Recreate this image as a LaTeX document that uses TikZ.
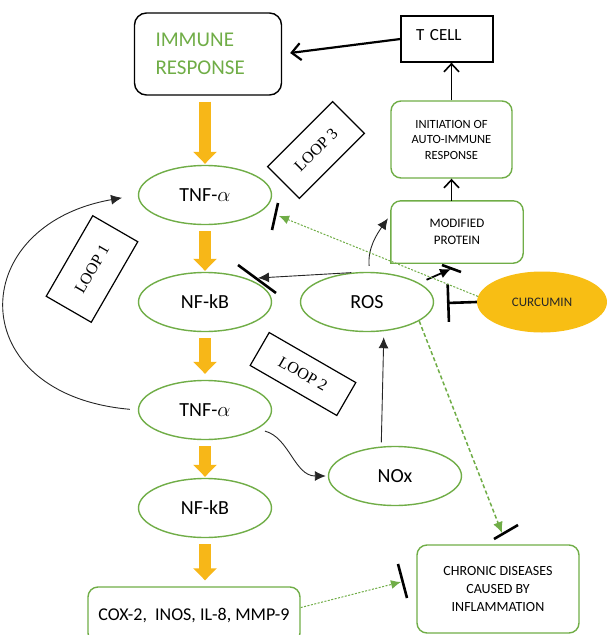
\documentclass[tikz,border=0pt]{standalone}
\usepackage{fontspec}
\setmainfont{Carlito}
\newfontfamily\loopfont{Liberation Serif}
\usetikzlibrary{shapes,arrows.meta}
\definecolor{leafgreen}{RGB}{112,173,71}
\definecolor{fatyellow}{RGB}{247,183,24}
\definecolor{curcuma}{RGB}{248,190,20}

\begin{document}
\begin{tikzpicture}[x=1pt,y=1pt,
    oval/.style={ellipse,draw=leafgreen,line width=1.4pt,minimum width=133pt,minimum height=59pt,inner sep=0pt,font=\fontsize{20}{24}\selectfont},
    gbox/.style={rectangle,rounded corners=10pt,draw=leafgreen,line width=1.4pt,align=center},
    loopbox/.style={rectangle,draw,line width=1.2pt,font=\loopfont\fontsize{16}{18}\selectfont},
    fatflow/.style={line width=12pt,draw=fatyellow,-{Triangle[width=23pt,length=12pt]},shorten <=6pt,shorten >=1pt},
    link/.style={black!85,line width=0.9pt,-{Latex[length=11pt,width=10pt]}},
    bigup/.style={line width=1.6pt,-{Straight Barb[length=8pt,width=15pt]}},
    hint/.style={leafgreen,line width=1pt,dash pattern=on 2pt off 1.5pt,-{Latex[length=10pt,width=9pt]}},
    hintdash/.style={leafgreen,line width=1.5pt,dash pattern=on 4pt off 2.5pt,-{Latex[length=11pt,width=10pt]}},
    block/.style={line width=2.6pt,black}]

    \useasboundingbox (0,0) rectangle (607,-635);
    \clip (0,0) rectangle (607,-635);

    \node[draw,rounded corners=12pt,line width=1.4pt,minimum width=147pt,minimum height=82pt,text width=105pt,align=left,text=leafgreen,font=\fontsize{21}{28}\selectfont] (immune) at (208,-54) {IMMUNE\\RESPONSE};
    \node[draw,line width=1.3pt,text width=62pt,align=left,inner xsep=15pt,inner ysep=6pt,text height=18pt,text depth=16pt,font=\fontsize{17}{20}\selectfont] (tcell) at (447,-39) {T CELL};
    \node[gbox,minimum width=121pt,minimum height=77pt,font=\fontsize{12.5}{15.5}\selectfont] (init) at (451.5,-139.5) {INITIATION OF\\AUTO-IMMUNE\\RESPONSE};
    \node[minimum width=132pt,minimum height=62pt,align=center,font=\fontsize{13}{17}\selectfont] (protein) at (457,-232) {MODIFIED\\PROTEIN};
    \draw[leafgreen,line width=1.4pt] (protein.south west) [rounded corners=10pt] -- (protein.north west) -- (protein.north east) -- (protein.south east) [sharp corners] -- cycle;

    \node[oval] (tnfa) at (205,-195) {TNF-$\alpha$};
    \node[oval] (nfkb) at (205,-302) {NF-kB};
    \node[oval] (tnfb) at (205,-410) {TNF-$\alpha$};
    \node[oval] (nfkbb) at (205,-508) {NF-kB};
    \node[oval] (ros) at (367,-302) {ROS};
    \node[oval] (nox) at (395,-476) {NOx};
    \node[ellipse,fill=curcuma,minimum width=130pt,minimum height=61pt,inner sep=0pt,text=black!85,font=\fontsize{13}{15}\selectfont] (curcumin) at (542,-302) {CURCUMIN};
    \node[gbox,minimum width=162pt,minimum height=88pt,font=\fontsize{14}{18}\selectfont] (chronic) at (498,-589) {CHRONIC DISEASES\\CAUSED BY\\INFLAMMATION};
    \node[gbox,minimum width=212pt,minimum height=56pt,font=\fontsize{18}{22}\selectfont] (cox) at (194,-615) {COX-2,\ \ INOS, IL-8, MMP-9};

    \node[loopbox,rotate=60,minimum width=93pt,minimum height=52pt] (loop1) at (92,-269) {LOOP 1};
    \node[loopbox,rotate=-30,minimum width=100pt,minimum height=38pt] (loop2) at (303,-374) {LOOP 2};
    \node[loopbox,rotate=45,minimum width=92pt,minimum height=45pt] (loop3) at (316,-150) {LOOP 3};

    \coordinate (tipTNF) at (279,-216);
    \coordinate (tipNF) at (258,-278);
    \coordinate (tipMP) at (451,-269);
    \coordinate (tipCHa) at (502,-533);
    \coordinate (tipCHb) at (401,-582);
    \coordinate (curbar) at (447,-303);

    \draw[fatflow] (immune.south -| tnfa.north) -- (tnfa.north);
    \draw[fatflow] (tnfa) -- (nfkb);
    \draw[fatflow,shorten >=6pt] (nfkb) -- (tnfb);
    \draw[fatflow] (tnfb) -- (nfkbb);
    \draw[fatflow,shorten >=6pt] (nfkbb.south) -- (nfkbb.south |- cox.north);

    \draw[line width=2.2pt,-{Straight Barb[length=9pt,width=17pt]},shorten >=8pt] (tcell.west) -- (immune.east);
    \draw[bigup] (init.north) -- (init.north |- tcell.south);
    \draw[bigup] (init.south |- protein.north) -- (init.south);

    \draw[link,shorten <=8pt,shorten >=16pt] (tnfb.west) to[out=175,in=190,looseness=2.1] (tnfa.west);
    \draw[link,shorten <=8pt,shorten >=2pt] (tnfb.-20) to[out=-15,in=180] (nox.west);
    \draw[link,shorten <=4pt,shorten >=6pt] (nox.115) -- (ros.-60);
    \draw[link,shorten <=6pt,shorten >=5pt] (ros.85) to[out=95,in=235] (protein.165);
    \draw[link] (ros.118) -- (tipNF);
    \draw[block] (tipNF) ++(-20,13) -- ++(38,-28);

    \draw[black,line width=1.8pt,-{Latex[length=11pt,width=10pt]},shorten <=8pt] (ros.20) -- (tipMP);
    \draw[block] (tipMP) ++(-9,4) -- ++(19,-7);
    \draw[block,-{Bar[width=38pt]}] (curcumin.west) -- (curbar);

    \draw[hint] (curcumin.175) -- (tipTNF);
    \draw[block] (tipTNF) ++(-1,13) -- ++(-6,-27);
    \draw[hintdash] (ros.-20) -- (tipCHa);
    \draw[block] (tipCHa) ++(-8,-6) -- ++(24,14);
    \draw[hint] (cox.4) -- (tipCHb);
    \draw[block] (tipCHb) ++(-3,18) -- ++(9,-34);

\end{tikzpicture}
\end{document}
